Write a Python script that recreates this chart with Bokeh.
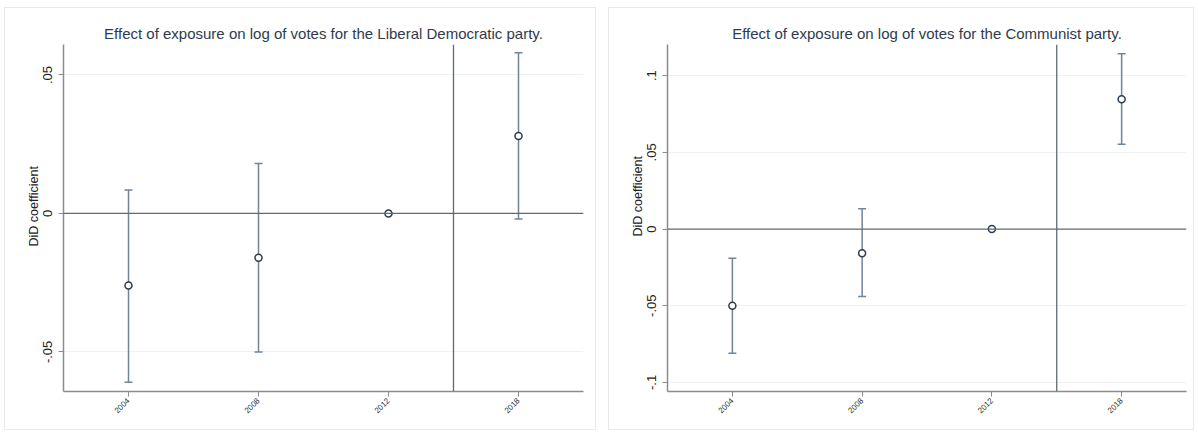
import math
from bokeh.plotting import figure
from bokeh.layouts import row
from bokeh.models import (ColumnDataSource, Whisker, TeeHead, Span, FixedTicker,
                          Range1d, Title)
from bokeh.embed import file_html
from bokeh.resources import INLINE

# Election years (categories) and DiD estimates with 95% CI bounds
years = ["2004", "2008", "2012", "2018"]

ldpr_coef = [-0.026, -0.016, 0.0, 0.028]
ldpr_lower = [-0.061, -0.050, 0.0, -0.002]
ldpr_upper = [0.0085, 0.018, 0.0, 0.058]

kprf_coef = [-0.050, -0.0158, 0.0, 0.0846]
kprf_lower = [-0.081, -0.044, 0.0, 0.0553]
kprf_upper = [-0.019, 0.0132, 0.0, 0.1142]

ldpr_ticks = [-0.05, 0.0, 0.05]
ldpr_tick_labels = ["-.05", "0", ".05"]
kprf_ticks = [-0.1, -0.05, 0.0, 0.05, 0.1]
kprf_tick_labels = ["-.1", "-.05", "0", ".05", ".1"]

FONT = "Liberation Sans"
AXIS_COL = "#8c8c8c"
BAR_COL = "#6f8599"
REF_COL = "#5f6a72"
GRID_COL = "#eef2f5"


def panel(title, coef, lower, upper, ticks, tick_labels, y_range, width, margin,
          border_right, ylabel_offset):
    xs = list(range(1, len(years) + 1))
    src = ColumnDataSource(dict(x=xs, coef=coef, lower=lower, upper=upper))

    p = figure(width=width, height=423, output_backend="svg", toolbar_location=None,
               x_range=Range1d(0.5, len(years) + 0.5), y_range=Range1d(*y_range),
               min_border_left=58, min_border_right=border_right,
               min_border_top=36, min_border_bottom=40,
               background_fill_color="white", border_fill_color="white",
               outline_line_color=None, margin=margin,
               styles={"border": "1px solid #e9e9e9", "box-sizing": "border-box"})

    p.title.text = title
    p.title.align = "center"
    p.title.text_font = FONT
    p.title.text_font_size = "15px"
    p.title.text_font_style = "normal"
    p.title.text_color = "#2f3b4c"
    p.title.standoff = 6

    # y axis title drawn as a side title so it can be shifted along the axis
    p.add_layout(Title(text="DiD coefficient", align="left", offset=ylabel_offset,
                       text_font=FONT, text_font_size="12.5px", text_font_style="normal",
                       text_color="#222222", standoff=0), "left")

    # horizontal grid at y ticks only
    p.xgrid.grid_line_color = None
    p.ygrid.grid_line_color = GRID_COL
    p.ygrid.grid_line_width = 1

    # y axis
    ya = p.yaxis[0]
    ya.ticker = FixedTicker(ticks=ticks)
    ya.major_label_overrides = {t: l for t, l in zip(ticks, tick_labels)}
    ya.major_label_orientation = "vertical"
    ya.major_label_text_font = FONT
    ya.major_label_text_font_size = "13px"
    ya.major_label_text_color = "#222222"
    ya.major_label_standoff = 6
    ya.axis_line_color = AXIS_COL
    ya.axis_line_width = 1.5
    ya.major_tick_line_color = AXIS_COL
    ya.major_tick_out = 5
    ya.major_tick_in = 0
    ya.minor_tick_line_color = None

    # x axis with year labels
    xa = p.xaxis[0]
    xa.ticker = FixedTicker(ticks=xs)
    xa.major_label_overrides = {x: y for x, y in zip(xs, years)}
    xa.major_label_orientation = math.pi / 4
    xa.major_label_text_font = FONT
    xa.major_label_text_font_size = "8px"
    xa.major_label_text_color = "#333333"
    xa.major_label_standoff = 3
    xa.axis_line_color = AXIS_COL
    xa.axis_line_width = 1.5
    xa.major_tick_line_color = AXIS_COL
    xa.major_tick_out = 5
    xa.major_tick_in = 0
    xa.minor_tick_line_color = None

    # reference lines: zero effect, and the break between 2012 and 2018
    p.add_layout(Span(location=0, dimension="width", line_color=REF_COL, line_width=1.3))
    p.add_layout(Span(location=(xs[2] + xs[3]) / 2, dimension="height",
                      line_color=REF_COL, line_width=1.3))

    # confidence intervals
    p.add_layout(Whisker(source=src, base="x", lower="lower", upper="upper",
                         line_color=BAR_COL, line_width=1.5,
                         lower_head=TeeHead(size=8, line_color=BAR_COL, line_width=1.5),
                         upper_head=TeeHead(size=8, line_color=BAR_COL, line_width=1.5)))

    # point estimates
    p.scatter("x", "coef", source=src, marker="circle", size=7,
              fill_color="white", line_color="#2b3d50", line_width=1.5)
    return p


p1 = panel("Effect of exposure on log of votes for the Liberal Democratic party.",
           ldpr_coef, ldpr_lower, ldpr_upper, ldpr_ticks, ldpr_tick_labels,
           (-0.0643, 0.061), 592, (7, 3, 4, 4), 14, 145)
p2 = panel("Effect of exposure on log of votes for the Communist party.",
           kprf_coef, kprf_lower, kprf_upper, kprf_ticks, kprf_tick_labels,
           (-0.1059, 0.1203), 586, (7, 4, 4, 9), 9, 155)

layout = row(p1, p2)
open("out.html", "w").write(file_html(layout, INLINE))
